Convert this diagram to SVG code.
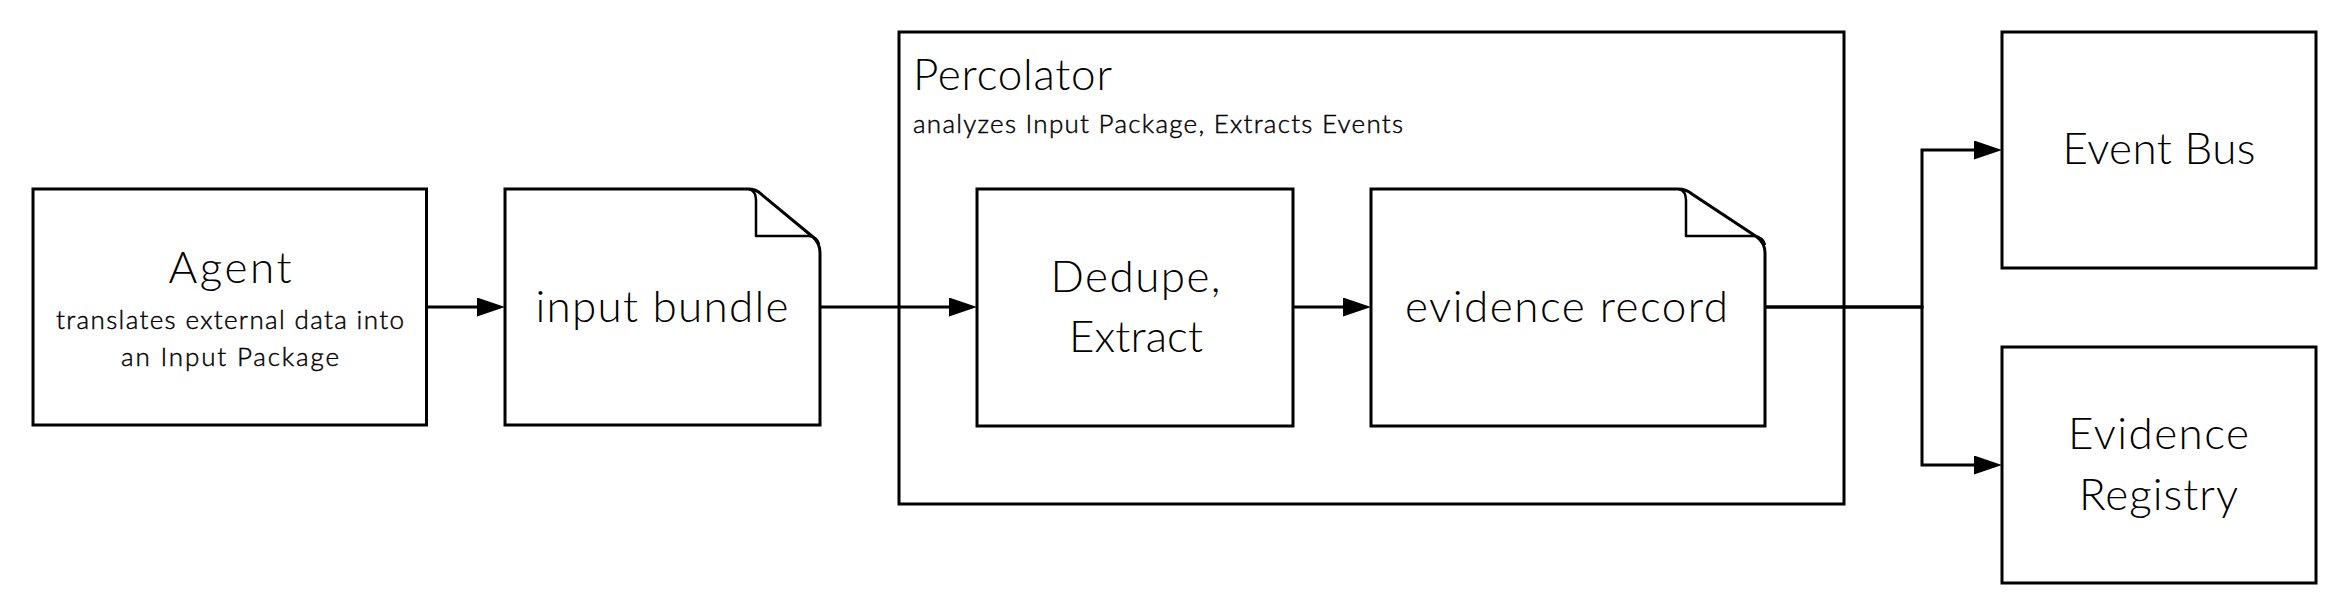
<svg xmlns="http://www.w3.org/2000/svg" width="2347" height="616" viewBox="0 0 2347 616">
  <style>
    .box { fill: #ffffff; stroke: #000000; stroke-width: 3; }
    .fold { fill: none; stroke: #000000; stroke-width: 2.5; stroke-linejoin: round; }
    .edge { fill: none; stroke: #000000; stroke-width: 3; }
    .lbl { font-family: "Lato", "Noto Sans", "Liberation Sans", sans-serif; font-weight: 300; font-size: 44px; fill: #000000; }
    .sub { font-family: "Lato", "Noto Sans", "Liberation Sans", sans-serif; font-weight: 300; font-size: 26px; fill: #000000; stroke: #000000; stroke-width: 0.45; }
    .c { text-anchor: middle; }
  </style>
  <defs>
    <marker id="arrow" markerUnits="userSpaceOnUse" markerWidth="28" markerHeight="20" refX="18" refY="9.5" orient="auto">
      <path d="M0,0 L28,9.5 L0,19 Z" fill="#000000"/>
    </marker>
  </defs>
  <rect width="2347" height="616" fill="#ffffff"/>

  <g id="percolator">
    <rect class="box" x="899" y="32" width="945" height="472"/>
    <text class="lbl" x="913" y="90" textLength="199">Percolator</text>
    <text class="sub" x="913" y="133" textLength="490">analyzes Input Package, Extracts Events</text>
  </g>

  <g id="connectors">
    <path class="edge" d="M426.5,307 H495" marker-end="url(#arrow)"/>
    <path class="edge" d="M820,307 H967" marker-end="url(#arrow)"/>
    <path class="edge" d="M1293,307 H1361" marker-end="url(#arrow)"/>
    <path class="edge" d="M1765,307 H1922 V150 H1992" marker-end="url(#arrow)"/>
    <path class="edge" d="M1765,307 H1922 V465 H1992" marker-end="url(#arrow)"/>
  </g>

  <g id="agent">
    <rect class="box" x="33" y="189" width="393.5" height="236"/>
    <text class="lbl c" x="230" y="283" textLength="123">Agent</text>
    <text class="sub c" x="230" y="329" textLength="348">translates external data into</text>
    <text class="sub c" x="230" y="366" textLength="218">an Input Package</text>
  </g>

  <g id="input-bundle">
    <path class="box" d="M505,189 H748 Q756,189 761,194 L813,237 Q820,243 820,253 V425 H505 Z"/>
    <path class="fold" d="M749,189 Q756,191 756,200 V236 H809 Q817,237 819,244"/>
    <text class="lbl c" x="662" y="322" textLength="253">input bundle</text>
  </g>

  <g id="dedupe-extract">
    <rect class="box" x="977" y="189" width="316" height="237"/>
    <text class="lbl c" x="1135.5" y="292" textLength="170">Dedupe,</text>
    <text class="lbl c" x="1136" y="352" textLength="134">Extract</text>
  </g>

  <g id="evidence-record">
    <path class="box" d="M1371,189 H1678 Q1686,189 1692,194 L1757,237 Q1765,243 1765,253 V426 H1371 Z"/>
    <path class="fold" d="M1679,189 Q1686,191 1686,200 V236 H1754 Q1763,237 1765,245"/>
    <text class="lbl c" x="1566.5" y="322" textLength="323">evidence record</text>
  </g>

  <g id="event-bus">
    <rect class="box" x="2002" y="32" width="314" height="236"/>
    <text class="lbl c" x="2159" y="164" textLength="193">Event Bus</text>
  </g>

  <g id="evidence-registry">
    <rect class="box" x="2002" y="347" width="314" height="236"/>
    <text class="lbl c" x="2158.5" y="449" textLength="181">Evidence</text>
    <text class="lbl c" x="2158.5" y="510" textLength="159">Registry</text>
  </g>
</svg>
